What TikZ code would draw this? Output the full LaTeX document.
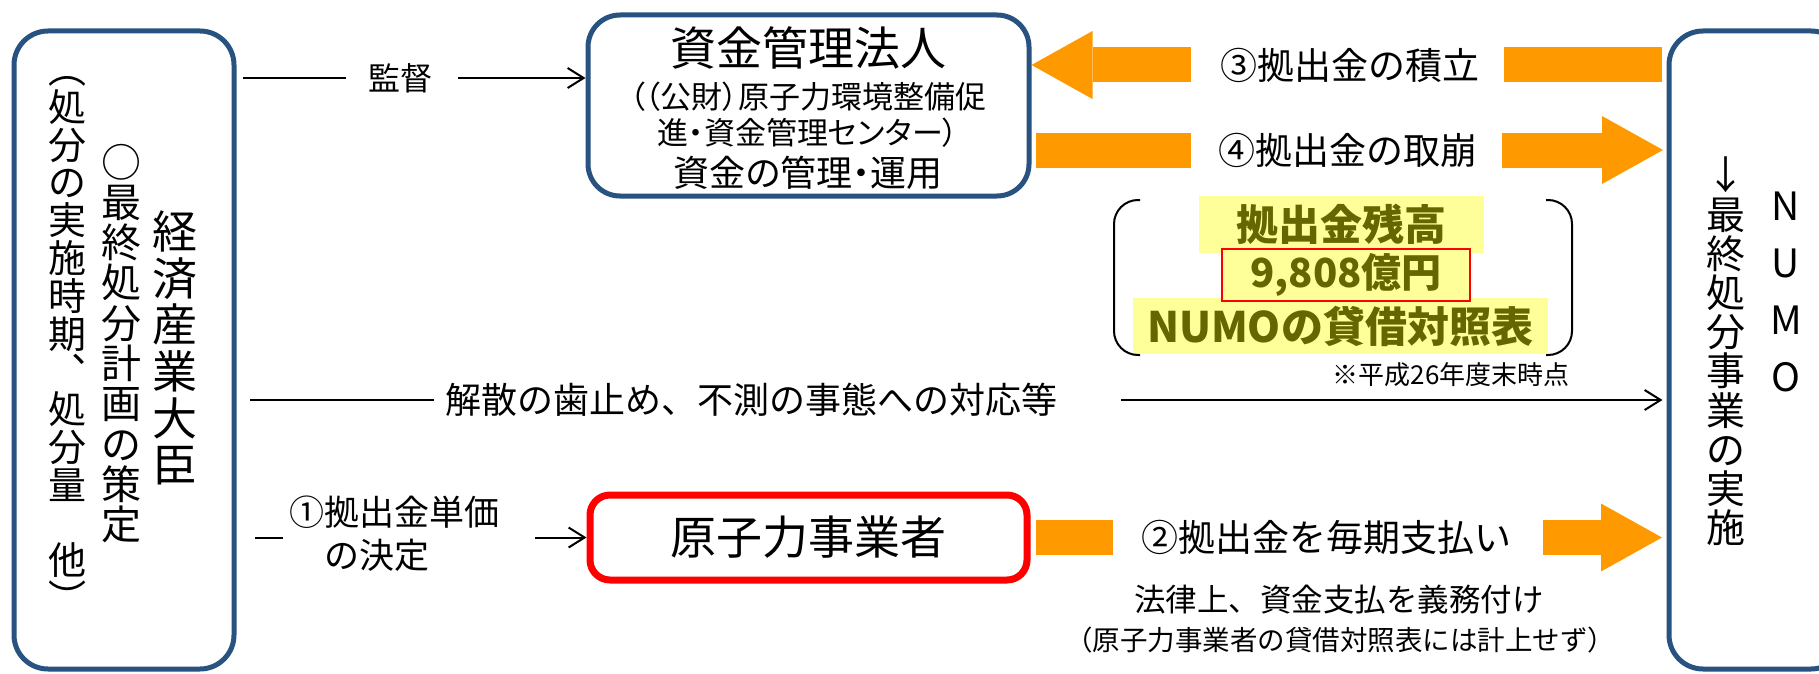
\documentclass[tikz,border=0pt]{standalone}
\usepackage{fontspec}
\setmainfont{Noto Sans CJK JP}
\usepackage{tikz}
\usetikzlibrary{arrows.meta,positioning,calc}
\definecolor{frameblue}{RGB}{40,82,128}
\definecolor{flowora}{RGB}{255,153,0}
\definecolor{markyel}{RGB}{255,255,153}
\definecolor{olivetxt}{RGB}{102,102,0}
\newcommand{\fsz}[2]{\fontsize{#1}{#2}\selectfont}
\tikzset{
  >=Stealth,
  every picture/.append style={line width=1pt},
}
\tikzset{
  party/.style={draw=frameblue, line width=2.5pt, rounded corners=17pt, fill=white},
  txt/.style={inner sep=0pt, align=center},
  vtxt/.style={inner sep=0pt, align=center}
}

\begin{document}
\begin{tikzpicture}[
  x=0.5pt, y=-0.5pt,
  utilbox/.style={draw=red, line width=3.5pt, rounded corners=10pt, fill=white, align=center, font=\fsz{23pt}{27pt}},
  arr/.style={-{Straight Barb[length=8pt,width=10pt]}, line width=1pt, draw=black},
  ln/.style={line width=1pt, draw=black},
  band/.style={draw=flowora, line width=17.5pt},
  bandarr/.style={draw=flowora, line width=17.5pt, -{Triangle[length=30.5pt,width=34pt,line width=0pt]}},
  hilite/.style={fill=markyel, text=olivetxt, inner sep=0pt, font=\bfseries\fsz{21pt}{25pt}}
]
\useasboundingbox (0,0) rectangle (1819,674);
\clip (0,0) rectangle (1819,674);

% Left: minister
\node[party, minimum width=110pt, minimum height=319pt] (minister) at (124,350) {};
\node[vtxt, font=\fsz{22.5pt}{23.3pt}] (minname) at (175,348) {経\\済\\産\\業\\大\\臣};
\node[vtxt, font=\fsz{20pt}{20.15pt}] (minplan) at (121,343.5) {○\\最\\終\\処\\分\\計\\画\\の\\策\\定};
\node[vtxt, font=\fsz{19pt}{18.9pt}] (minitems) at (67,344.5) {︵\\処\\分\\の\\実\\施\\時\\期\\︑\\処\\分\\量\\　\\他\\︶};

% Right: NUMO
\node[party, minimum width=88pt, minimum height=319pt] (numo) at (1757,350) {};
\node[vtxt, font=\fsz{19.5pt}{28.35pt}] (numoname) at (1786,292) {N\\U\\M\\O};
\node[vtxt, font=\fsz{19.5pt}{19.6pt}] (numorole) at (1726,351.5) {↓\\最\\終\\処\\分\\事\\業\\の\\実\\施};

% Centre: fund manager and utilities
\node[party, rounded corners=16pt, minimum width=220.5pt, minimum height=90.5pt] (fund) at (808.5,105.5) {};
\node[txt, font=\fsz{23pt}{27pt}] (fundname) at (808,48) {資金管理法人};
\node[txt, font=\fsz{15.5pt}{18pt}\addfontfeatures{RawFeature=+palt}] (fundsub) at (808,115) {（（公財）原子力環境整備促\\進・資金管理センター）};
\node[txt, font=\fsz{18pt}{21pt}\addfontfeatures{RawFeature=+palt}] (fundrole) at (808,173) {資金の管理・運用};
\node[utilbox, minimum width=218.5pt, minimum height=42.5pt] (utility) at (808.5,537.5) {原子力事業者};

% Thin connectors from the minister
\node[txt, font=\fsz{16pt}{19pt}] (kantoku) at (400,78) {監督};
\draw[ln, shorten <=3.25pt, shorten >=10.5pt] (minister.east |- kantoku) -- (kantoku.west);
\draw[arr, shorten <=12.5pt] (kantoku.east) -- (fund.west |- kantoku);

\node[txt, font=\fsz{18pt}{21pt}] (kaisan) at (751,400) {解散の歯止め、不測の事態への対応等};
\draw[ln, shorten <=6.75pt, shorten >=5pt] (minister.east |- kaisan) -- (kaisan.west);
\draw[arr, shorten <=31.5pt, shorten >=2pt] (kaisan.east) -- (numo.west |- kaisan);

\node[txt, align=left, font=\fsz{17.5pt}{21.5pt}] (decide) at (394,533.5) {①拠出金単価\\　の決定};
\draw[ln, shorten <=9.25pt, shorten >=2.5pt] (minister.east |- utility) -- (decide.west |- utility);
\draw[arr, shorten <=17.5pt] (decide.east |- utility) -- (utility.west);

% Orange money flows
\node[txt, font=\fsz{18.5pt}{22pt}] (lbl3) at (1350,65) {③拠出金の積立};
\draw[bandarr, shorten <=14.25pt] (lbl3.west) -- (fund.east |- lbl3);
\draw[band, shorten <=2.25pt, shorten >=11.75pt] (numo.west |- lbl3) -- (lbl3.east);

\node[txt, font=\fsz{18.5pt}{22pt}] (lbl4) at (1348,150) {④拠出金の取崩};
\draw[band, shorten <=2.25pt, shorten >=13.25pt] (fund.east |- lbl4) -- (lbl4.west);
\draw[bandarr, shorten <=11.75pt, shorten >=1.75pt] (lbl4.east) -- (numo.west |- lbl4);

\node[txt, font=\fsz{18.5pt}{22pt}] (lbl2) at (1326,537.5) {②拠出金を毎期支払い};
\draw[band, shorten <=2.75pt, shorten >=13.5pt] (utility.east) -- (lbl2.west);
\draw[bandarr, shorten <=15.5pt, shorten >=2.25pt] (lbl2.east) -- (numo.west |- lbl2);

\node[txt, font=\fsz{15.75pt}{19pt}] (duty) at (1339,600) {法律上、資金支払を義務付け};
\node[txt, font=\fsz{13.75pt}{17pt}] (dutynote) at (1340,640) {（原子力事業者の貸借対照表には計上せず）};

% Balance held by NUMO
\node[hilite, minimum width=142.5pt, minimum height=28.5pt] (bal1) at (1341,224) {拠出金残高};
\node[hilite, minimum width=207.5pt, minimum height=28pt] (bal3) at (1340,326) {NUMOの貸借対照表};
\node[hilite, draw=red, line width=1.2pt, font=\bfseries\fsz{20pt}{24pt}, minimum width=124pt, minimum height=26pt] (bal2) at (1346,275) {9,808億円};
\draw[ln, rounded corners=12pt] (1140,200) -- (1114,200) -- (1114,355) -- (1140,355);
\draw[ln, rounded corners=12pt] (1546,200) -- (1572,200) -- (1572,355) -- (1546,355);
\node[txt, font=\fsz{13pt}{16pt}] (asof) at (1451,375) {※平成26年度末時点};

\end{tikzpicture}
\end{document}
